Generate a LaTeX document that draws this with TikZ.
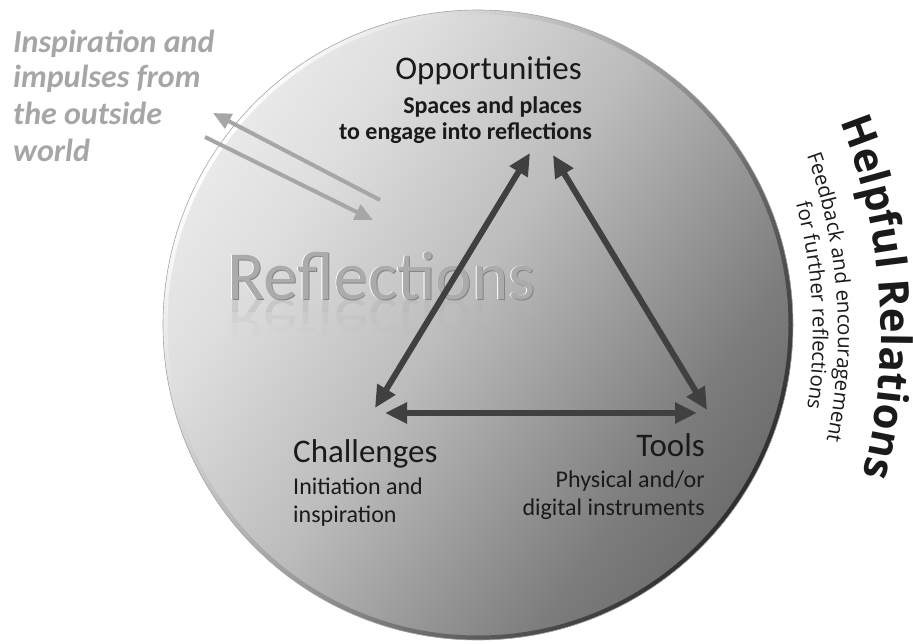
\documentclass[tikz,border=0pt]{standalone}
\usepackage{fontspec}
\setmainfont{Carlito}
\newfontfamily\hfont{Open Sans}
\usetikzlibrary{arrows.meta,decorations.text}
\definecolor{arrdark}{HTML}{404040}
\definecolor{arrlight}{HTML}{A6A6A6}
\definecolor{txtdark}{HTML}{1A1A1A}
\definecolor{shA}{HTML}{585858}
\definecolor{shB}{HTML}{7C7C7C}
\definecolor{shC}{HTML}{BCBCBC}
\definecolor{shD}{HTML}{DEDEDE}
\definecolor{shE}{HTML}{F8F8F8}
\definecolor{rimA}{HTML}{2E2E2E}
\definecolor{rimB}{HTML}{9A9A9A}
\definecolor{reflmain}{HTML}{ABABAB}
\definecolor{reflshadow}{HTML}{858585}
\pgfdeclareverticalshading{disc}{100bp}{color(0bp)=(shA); color(15bp)=(shA); color(32bp)=(shB); color(52bp)=(shC); color(67bp)=(shD); color(85bp)=(shE); color(100bp)=(shE)}
\pgfdeclareverticalshading{rim}{100bp}{color(0bp)=(rimA); color(25bp)=(rimA); color(50bp)=(rimB); color(75bp)=(white); color(100bp)=(white)}
\begin{document}
\begin{tikzpicture}[x=1pt,y=1pt,
  darrow/.style={draw=arrdark, line width=6pt, {Triangle[length=22pt,width=20pt]}-{Triangle[length=22pt,width=20pt]}},
  larrow/.style={draw=arrlight, line width=4pt, -{Triangle[length=18pt,width=16pt]}},
  title/.style={font=\fontsize{33}{36}\selectfont, text=txtdark, inner sep=0pt},
  sub/.style={font=\fontsize{24}{27}\selectfont, text=txtdark, inner sep=0pt},
  subb/.style={font=\fontsize{24}{27}\selectfont\bfseries, text=txtdark, inner sep=0pt},
  insp/.style={font=\fontsize{32}{37}\selectfont\bfseries\itshape, text=arrlight, inner sep=0pt, anchor=base west},
  refl/.style={font=\fontsize{69}{70}\selectfont, anchor=base, inner sep=0pt},
  rimline/.style={draw=gray!70, line width=0.6pt}]
\useasboundingbox (0,0) rectangle (913,643);
% disc
\coordinate (cc) at (478,318);
\shade[shading=disc, shading angle=55] (cc) circle (315pt);
\shade[even odd rule, shading=rim, shading angle=55] (cc) circle (315pt) circle (310.5pt);
\draw[rimline] (cc) circle (315pt);
% Reflections title with mirror
\begin{scope}
  \clip (200,343) rectangle (570,331);
  \node[refl, text=gray!60, yscale=-1, opacity=0.4] (m1) at (381.5,343) {Reflections};
\end{scope}
\begin{scope}
  \clip (200,331) rectangle (570,320);
  \node[refl, text=gray!60, yscale=-1, opacity=0.2] (m2) at (381.5,343) {Reflections};
\end{scope}
\begin{scope}
  \clip (200,320) rectangle (570,308);
  \node[refl, text=gray!60, yscale=-1, opacity=0.08] (m3) at (381.5,343) {Reflections};
\end{scope}
\node[refl, text=white] (rhi) at (380.8,343.7) {Reflections};
\node[refl, text=reflshadow] (rsh) at (382.2,342.3) {Reflections};
\node[refl, text=reflmain] (refl) at (381.5,343) {Reflections};
% labels
\node[title, anchor=base east] (opp) at (582,563) {Opportunities};
\node[subb, anchor=base east] (opp2) at (582,529) {Spaces and places};
\node[subb, anchor=base east] (opp3) at (592,503) {to engage into reflections};
\node[title, anchor=base west] (chal) at (293,180) {Challenges};
\node[sub, anchor=base west] (chal2) at (293,148) {Initiation and};
\node[sub, anchor=base west] (chal3) at (293,121) {inspiration};
\node[title, anchor=base east] (tools) at (705,186) {Tools};
\node[sub, anchor=base east] (tools2) at (705,155) {Physical and/or};
\node[sub, anchor=base east] (tools3) at (705,128) {digital instruments};
% triangle arrows
\coordinate (oL) at (530,490);
\coordinate (cT) at (375,235);
\coordinate (oR) at (553,488);
\coordinate (tT) at (707,233);
\coordinate (cR) at (385,230);
\coordinate (tL) at (697,230);
\draw[darrow] (oL) -- (cT);
\draw[darrow] (oR) -- (tT);
\draw[darrow] (cR) -- (tL);
% outside world
\node[insp] (in1) at (13,590) {Inspiration and};
\node[insp] (in2) at (13,555) {impulses from};
\node[insp] (in3) at (13,518) {the outside};
\node[insp] (in4) at (13,481) {world};
\coordinate (g1s) at (380,443);
\coordinate (g1e) at (213,530);
\coordinate (g2s) at (205,506);
\coordinate (g2e) at (373,423);
\draw[larrow] (g1s) -- (g1e);
\draw[larrow] (g2s) -- (g2e);
% helpful relations
\coordinate (hc) at (320,310);
\path[decorate, decoration={text along path, text align=center, text color=txtdark,
  text={|\hfont\bfseries\fontsize{42}{42}\selectfont|Helpful Relations}}]
  ([shift={(38.7:561pt)}]hc) arc[start angle=38.7, end angle=-31.3, radius=561pt];
\path[decorate, decoration={text along path, text align=center, text color=txtdark,
  text={|\hfont\fontsize{20.5}{21}\selectfont|Feedback and encouragement}}]
  ([shift={(39:518pt)}]hc) arc[start angle=39, end angle=-31, radius=518pt];
\path[decorate, decoration={text along path, text align=center, text color=txtdark,
  text={|\hfont\fontsize{20.5}{21}\selectfont|for further reflections}}]
  ([shift={(38.2:493pt)}]hc) arc[start angle=38.2, end angle=-31.8, radius=493pt];
\end{tikzpicture}
\end{document}
